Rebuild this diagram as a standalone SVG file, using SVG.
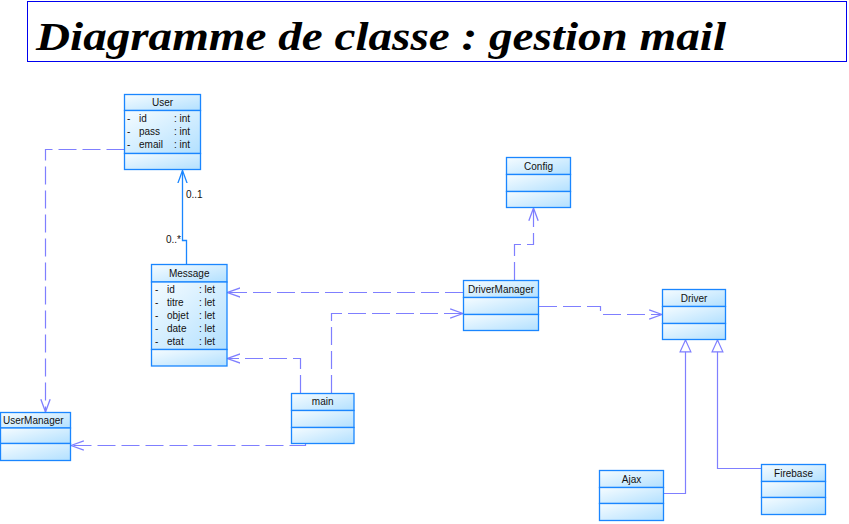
<svg xmlns="http://www.w3.org/2000/svg" width="849" height="524" viewBox="0 0 849 524">
<style>
.box{fill:url(#g);stroke:#1a86ff;stroke-width:1.3}
.t{font-family:"Liberation Sans",Arial,sans-serif;font-size:10px;fill:#111}
.c{text-anchor:middle}
.dep{fill:none;stroke:#7f7fff;stroke-width:1.2;stroke-dasharray:18 6;marker-end:url(#open)}
.gen{fill:none;stroke:#7f7fff;stroke-width:1.2;marker-end:url(#tri)}
.asc{fill:none;stroke:#1a86ff;stroke-width:1.3;marker-end:url(#openb)}
</style>
<defs>
<linearGradient id="g" x1="0" y1="0" x2="1" y2="1">
<stop offset="0" stop-color="#f6fcff"/>
<stop offset="1" stop-color="#b2e0ff"/>
</linearGradient>
<marker id="open" markerUnits="userSpaceOnUse" markerWidth="14" markerHeight="12" viewBox="0 0 12 10" refX="11" refY="5" orient="auto">
<path d="M0,1 L11,5 L0,9" fill="none" stroke="#7f7fff" stroke-width="1.1"/>
</marker>
<marker id="openb" markerUnits="userSpaceOnUse" markerWidth="14" markerHeight="12" viewBox="0 0 12 10" refX="11" refY="5" orient="auto">
<path d="M0,1 L11,5 L0,9" fill="none" stroke="#1a86ff" stroke-width="1.1"/>
</marker>
<marker id="tri" markerUnits="userSpaceOnUse" markerWidth="14" markerHeight="14" viewBox="0 0 13 12" refX="12" refY="6" orient="auto">
<path d="M1,1 L12,6 L1,11 Z" fill="#fff" stroke="#7f7fff" stroke-width="1.1"/>
</marker>
</defs>
<rect width="849" height="524" fill="#fff"/>
<g id="title">
<rect x="27.5" y="1.5" width="819" height="60" fill="#fff" stroke="#0000ee" stroke-width="1"/>
<text x="36" y="50" font-family="'Liberation Serif','DejaVu Serif',serif" font-size="40" font-weight="bold" font-style="italic" textLength="690" lengthAdjust="spacingAndGlyphs" fill="#000">Diagramme de classe : gestion mail</text>
</g>
<g id="connectors">
<path class="dep" d="M124.5,149.5 H45.5 V412"/>
<path class="dep" d="M305.5,443.5 V445.5 H71"/>
<path class="dep" d="M300.5,393 V358.5 H227.5"/>
<path class="dep" d="M331.5,393 V313.5 H463"/>
<path class="dep" d="M463,292.5 H227.5"/>
<path class="dep" d="M514.5,280 V244.5 H533.5 V208"/>
<path class="dep" d="M539,306.5 H600.5 V314.5 H662"/>
<path class="asc" d="M186.5,264 V240.5 H182.5 V170.5"/>
<path class="gen" d="M664,493.5 H685.5 V340"/>
<path class="gen" d="M761.5,468.5 H717.5 V340"/>
<text class="t" x="186" y="198" font-size="9">0..1</text>
<text class="t" x="166" y="243" font-size="9">0..*</text>
</g>
<g id="User">
<rect class="box" x="124.5" y="94.5" width="76" height="16"/>
<rect class="box" x="124.5" y="110.5" width="76" height="43"/>
<rect class="box" x="124.5" y="153.5" width="76" height="16"/>
<text class="t c" x="162.5" y="106">User</text>
<text class="t" x="127" y="122">-</text><text class="t" x="139" y="122">id</text><text class="t" x="174" y="122">: int</text>
<text class="t" x="127" y="135">-</text><text class="t" x="139" y="135">pass</text><text class="t" x="174" y="135">: int</text>
<text class="t" x="127" y="148">-</text><text class="t" x="139" y="148">email</text><text class="t" x="174" y="148">: int</text>
</g>
<g id="Message">
<rect class="box" x="151.5" y="264.5" width="75.5" height="17.5"/>
<rect class="box" x="151.5" y="282" width="75.5" height="67.5"/>
<rect class="box" x="151.5" y="349.5" width="75.5" height="16.5"/>
<text class="t c" x="189.2" y="277">Message</text>
<text class="t" x="155" y="292.5">-</text><text class="t" x="167" y="292.5">id</text><text class="t" x="199" y="292.5">: let</text>
<text class="t" x="155" y="305.5">-</text><text class="t" x="167" y="305.5">titre</text><text class="t" x="199" y="305.5">: let</text>
<text class="t" x="155" y="318.5">-</text><text class="t" x="167" y="318.5">objet</text><text class="t" x="199" y="318.5">: let</text>
<text class="t" x="155" y="331.5">-</text><text class="t" x="167" y="331.5">date</text><text class="t" x="199" y="331.5">: let</text>
<text class="t" x="155" y="344.5">-</text><text class="t" x="167" y="344.5">etat</text><text class="t" x="199" y="344.5">: let</text>
</g>
<g id="Config">
<rect class="box" x="506.5" y="157.5" width="64" height="17"/>
<rect class="box" x="506.5" y="174.5" width="64" height="17"/>
<rect class="box" x="506.5" y="191.5" width="64" height="16"/>
<text class="t c" x="538.5" y="169.5">Config</text>
</g>
<g id="DriverManager">
<rect class="box" x="463.5" y="280.5" width="75" height="17"/>
<rect class="box" x="463.5" y="297.5" width="75" height="17"/>
<rect class="box" x="463.5" y="314.5" width="75" height="16"/>
<text class="t c" x="501" y="292.5">DriverManager</text>
</g>
<g id="Driver">
<rect class="box" x="662.5" y="289.5" width="63" height="17"/>
<rect class="box" x="662.5" y="306.5" width="63" height="17"/>
<rect class="box" x="662.5" y="323.5" width="63" height="16"/>
<text class="t c" x="694" y="301.5">Driver</text>
</g>
<g id="UserManager">
<rect class="box" x="0.5" y="412.5" width="70" height="15.5"/>
<rect class="box" x="0.5" y="428" width="70" height="15.5"/>
<rect class="box" x="0.5" y="443.5" width="70" height="17"/>
<text class="t" x="3" y="424">UserManager</text>
</g>
<g id="main">
<rect class="box" x="291.5" y="393.5" width="62.5" height="17"/>
<rect class="box" x="291.5" y="410.5" width="62.5" height="17"/>
<rect class="box" x="291.5" y="427.5" width="62.5" height="16"/>
<text class="t c" x="322.7" y="405">main</text>
</g>
<g id="Ajax">
<rect class="box" x="599.5" y="470.5" width="64" height="17"/>
<rect class="box" x="599.5" y="487.5" width="64" height="16"/>
<rect class="box" x="599.5" y="503.5" width="64" height="17"/>
<text class="t c" x="631.5" y="482.5">Ajax</text>
</g>
<g id="Firebase">
<rect class="box" x="761.5" y="464.5" width="64" height="17"/>
<rect class="box" x="761.5" y="481.5" width="64" height="16"/>
<rect class="box" x="761.5" y="497.5" width="64" height="17"/>
<text class="t c" x="793.5" y="476.5">Firebase</text>
</g>
</svg>
